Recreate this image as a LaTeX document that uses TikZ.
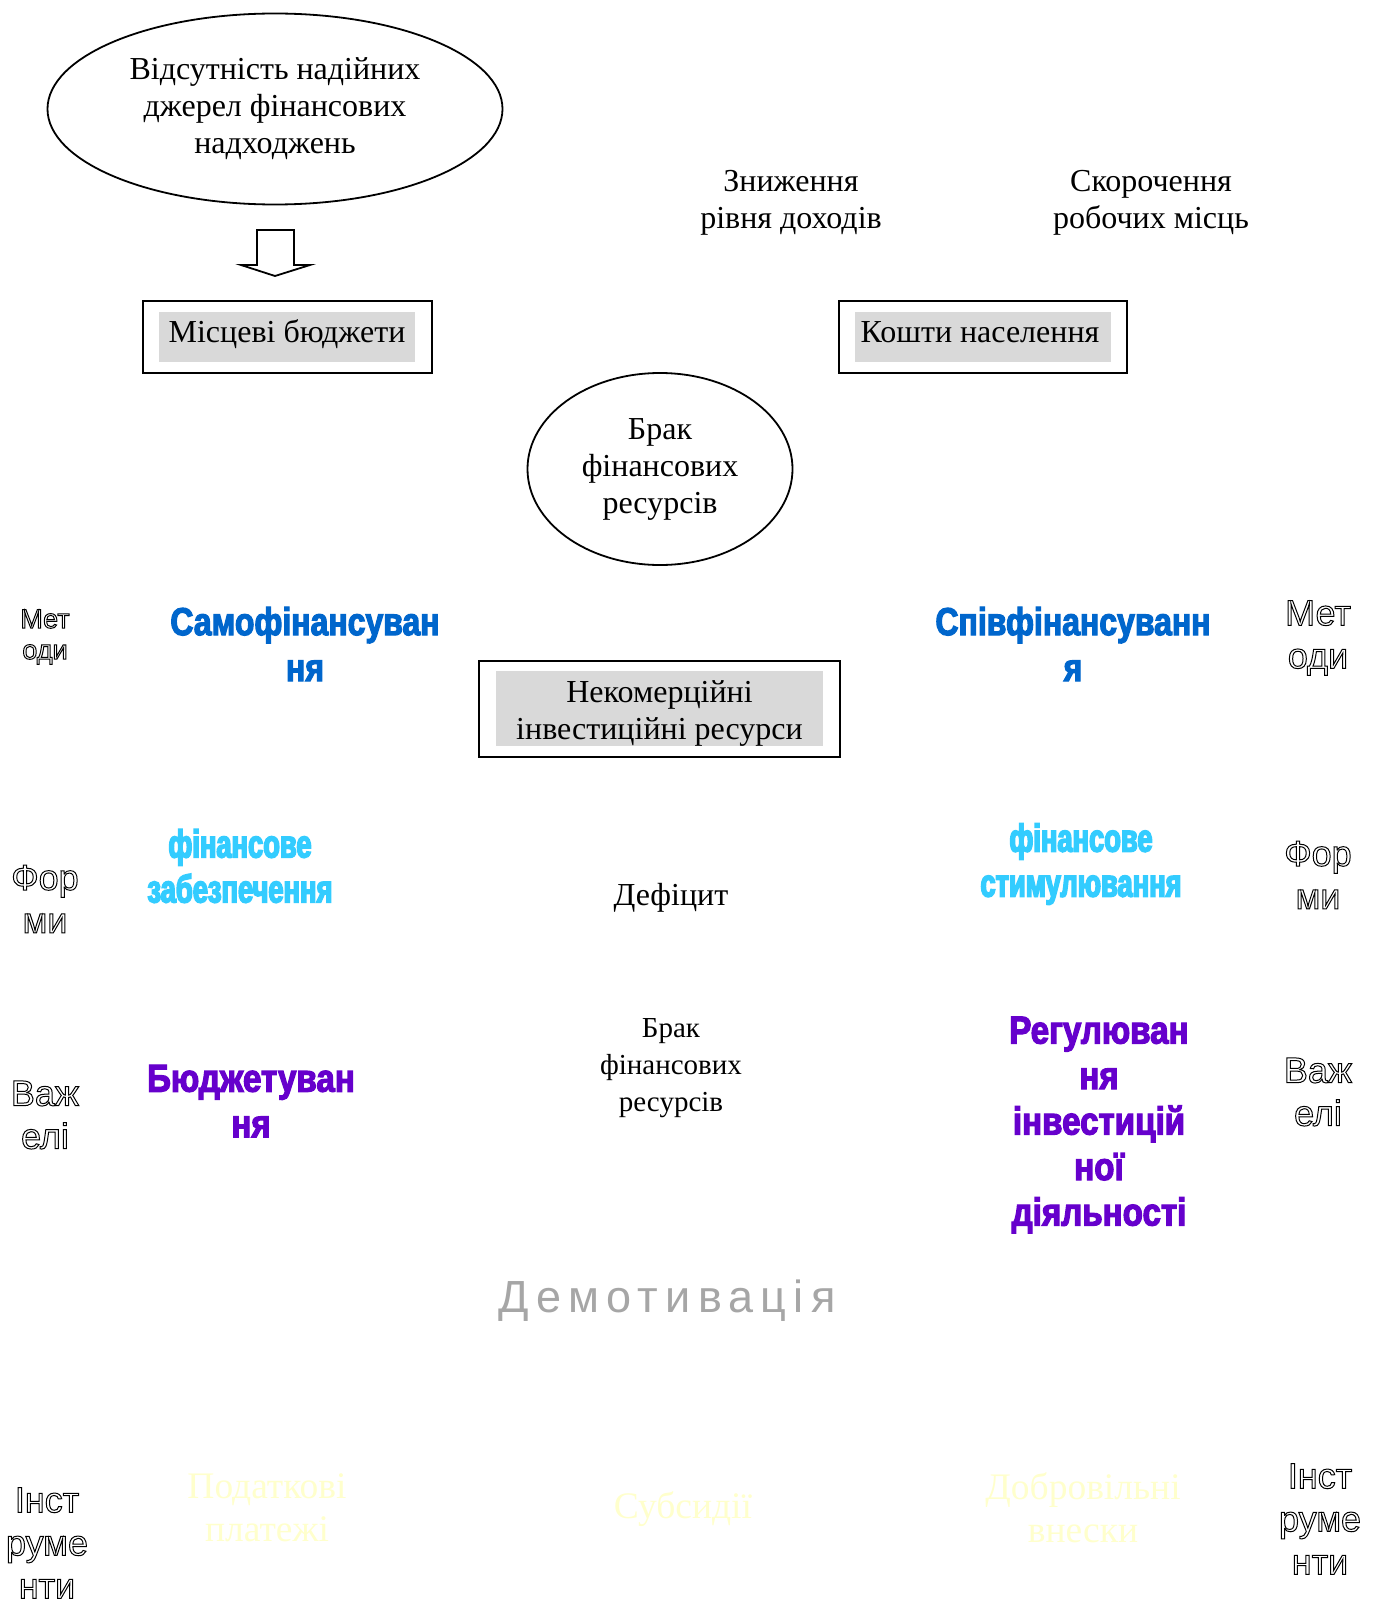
\documentclass[tikz,border=0pt]{standalone}
\usepackage{fontspec}
\setmainfont{Liberation Serif}
\newfontfamily\arialf{Liberation Sans}
\newfontfamily\demof{Liberation Sans}[LetterSpace=16]
\newfontfamily\heavyf{Liberation Sans}[FakeStretch=0.82,FakeBold=3]
\newfontfamily\heavypf{Liberation Sans}[FakeStretch=0.85,FakeBold=3]
\newfontfamily\heavynf{Liberation Sans}[FakeStretch=0.70,FakeBold=4]
\usetikzlibrary{shapes.geometric}
\definecolor{cblue}{HTML}{0066CC}
\definecolor{clight}{HTML}{33CCFF}
\definecolor{cpurple}{HTML}{6600CC}
\definecolor{cyell}{HTML}{FFFFCC}
\definecolor{cgrayfill}{HTML}{D9D9D9}
\definecolor{cdemo}{HTML}{A6A6A6}
\newcommand\outltext[1]{\special{pdf:literal direct 1 Tr}#1\special{pdf:literal direct 0 Tr}}
\begin{document}
\begin{tikzpicture}[x=1pt,y=-1pt,
  every node/.style={inner sep=0pt, outer sep=0pt},
  serif/.style={font=\fontsize{32}{37}\selectfont, align=center},
  serifsm/.style={font=\fontsize{29}{37}\selectfont, align=center},
  oval/.style={ellipse, draw, line width=1.8pt, serif},
  outerbox/.style={draw, line width=1.8pt},
  greybox/.style={fill=cgrayfill},
  heavyblue/.style={font=\heavyf\bfseries\fontsize{39}{46}\selectfont, text=cblue, align=center},
  heavylight/.style={font=\heavynf\bfseries\fontsize{39}{45}\selectfont, text=clight, align=center},
  heavypurple/.style={font=\heavypf\bfseries\fontsize{39}{45.5}\selectfont, text=cpurple, align=center},
  faint/.style={font=\fontsize{37.5}{43}\selectfont, align=center, text=cyell},
  lblsmall/.style={font=\arialf\fontsize{27}{31}\selectfont, align=center},
  lbl/.style={font=\arialf\fontsize{36}{43}\selectfont, align=center},
  demo/.style={font=\demof\fontsize{45}{50}\selectfont, text=cdemo}
]
\useasboundingbox (0,0) rectangle (1373,1600);
\fill[white] (0,0) rectangle (1373,1600);

% top ellipse and block arrow
\node[oval, minimum width=455pt, minimum height=191pt] (src) at (275,109)
  {Відсутність надійних\\джерел фінансових\\надходжень};
\draw[line width=1.8pt, fill=white, line join=miter]
  (257,230) -- (294,230) -- (294,265) -- (310,265) -- (275,276) -- (241,265) -- (257,265) -- cycle;

% boxes
\node[outerbox, minimum width=289pt, minimum height=72pt] (mbo) at (287.5,337) {};
\node[greybox, minimum width=256pt, minimum height=50pt] (mbg) at (287,337) {};
\node[serif] (mb) at (287,334) {Місцеві бюджети};
\node[outerbox, minimum width=288pt, minimum height=72pt] (kno) at (983,337) {};
\node[greybox, minimum width=256pt, minimum height=50pt] (kng) at (983,337) {};
\node[serif] (kn) at (980,332) {Кошти населення};

\node[serif] (zn) at (791,203) {Зниження\\рівня доходів};
\node[serif] (sk) at (1151,203) {Скорочення\\робочих місць};

\node[oval, minimum width=265pt, minimum height=192pt] (brak1) at (660,469)
  {Брак\\фінансових\\ресурсів};

\node[outerbox, minimum width=361pt, minimum height=96pt] (nko) at (659.5,709) {};
\node[greybox, minimum width=327pt, minimum height=75pt] (nkg) at (659.5,708.5) {};
\node[serif] (nk) at (659.5,713) {Некомерційні\\інвестиційні ресурси};

\node[serif] (def) at (671,898) {Дефіцит};
\node[serifsm] (brak2) at (671,1068) {Брак\\фінансових\\ресурсів};
\node[demo] (demo) at (667,1301) {Демотивація};

% heavy coloured texts
\node[heavyblue] (samo) at (305,644) {Самофінансуван\\ня};
\node[heavyblue] (spiv) at (1073,644) {Співфінансуванн\\я};
\node[heavylight] (zab) at (240,866) {фінансове\\забезпечення};
\node[heavylight] (stim) at (1081,864) {фінансове\\стимулювання};
\node[heavypurple] (budz) at (251,1101) {Бюджетуван\\ня};
\node[heavypurple] (reg) at (1099,1125) {Регулюван\\ня\\інвестицій\\ної\\діяльності};

% faint instruments
\node[faint] (pod) at (267,1508) {Податкові\\платежі};
\node[faint] (sub) at (683,1509) {Субсидії};
\node[faint] (dob) at (1083,1508) {Добровільні\\внески};

% outlined side labels
\begin{scope}[line width=1pt]
\node[lblsmall] (lmet) at (45,637) {\outltext{Мет\\оди}};
\node[lbl] (lfor) at (45,899) {\outltext{Фор\\ми}};
\node[lbl] (lvaz) at (45,1115) {\outltext{Важ\\елі}};
\node[lbl] (linst) at (47,1543) {\outltext{Інст\\руме\\нти}};
\node[lbl] (rmet) at (1318,638) {\outltext{Мет\\оди}};
\node[lbl] (rfor) at (1318,875) {\outltext{Фор\\ми}};
\node[lbl] (rvaz) at (1318,1092) {\outltext{Важ\\елі}};
\node[lbl] (rinst) at (1320,1519) {\outltext{Інст\\руме\\нти}};
\end{scope}
\end{tikzpicture}
\end{document}
